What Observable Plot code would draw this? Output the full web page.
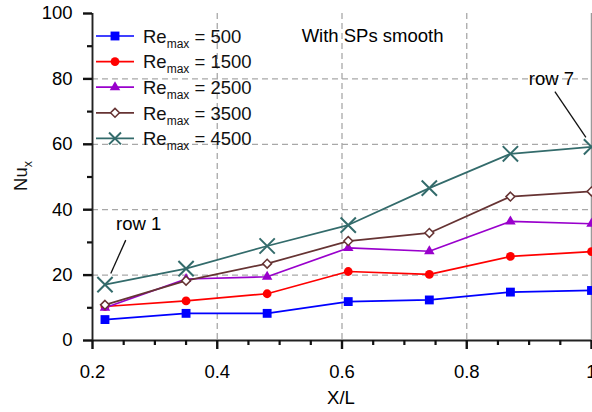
<!DOCTYPE html>
<html><head><meta charset="utf-8">
<script src="https://cdn.jsdelivr.net/npm/d3@7"></script>
<script src="https://cdn.jsdelivr.net/npm/@observablehq/plot@0.6"></script>
<style>
html,body{margin:0;padding:0;background:#fff;overflow:hidden}
#chart{width:592px;height:412px;overflow:hidden;position:relative}
</style>
</head><body><div id="chart"></div>
<script>
// ---- data ----
const xPos = [0.22, 0.35, 0.48, 0.61, 0.74, 0.87, 1.0];
const reLabels = ["500", "1500", "2500", "3500", "4500"];
const nu500  = [6.4, 8.3, 8.3, 11.9, 12.4, 14.8, 15.3];
const nu1500 = [10.4, 12.1, 14.3, 21.1, 20.2, 25.7, 27.2];
const nu2500 = [10.0, 18.8, 19.5, 28.3, 27.3, 36.4, 35.7];
const nu3500 = [10.9, 18.3, 23.5, 30.4, 32.9, 44.0, 45.6];
const nu4500 = [17.1, 22.0, 28.9, 35.3, 46.6, 57.1, 59.2];
const xTicks = [0.2, 0.4, 0.6, 0.8, 1.0];
const xTickLabels = ["0.2", "0.4", "0.6", "0.8", "1"];
const xMinorTicks = [0.25, 0.3, 0.35, 0.45, 0.5, 0.55, 0.65, 0.7, 0.75, 0.85, 0.9, 0.95];
const xGrid = [0.4, 0.6, 0.8];
const yTicks = [0, 20, 40, 60, 80, 100];
const yMinorTicks = [10, 30, 50, 70, 90];
const yGrid = [20, 40, 60, 80];
const noteText = ["With SPs smooth"];
const noteX = [0.649];
const noteY = [93.0];
const annoLabels = ["row 1", "row 7"];
const annoTextX = [0.274, 0.9357];
const annoTextY = [35.7, 80.0];
const annoFromX = [0.2533, 0.9413];
const annoFromY = [30.7, 76.1];
const annoToX = [0.2293, 0.991];
const annoToY = [20.5, 62.1];

// ---- styles ----
const seriesValues = [nu500, nu1500, nu2500, nu3500, nu4500];
const colors = ["#0000ff", "#ff0000", "#9900cc", "#663333", "#336b6b"];
const symbols = ["square", "circle", "triangle", "diamond2", "times"];
const dotStyle = [
  {r: 5, fillFn: c => c, stroke: "none", sw: 0},
  {r: 4.4, fillFn: c => c, stroke: "none", sw: 0},
  {r: 3.9, fillFn: c => c, stroke: "none", sw: 0},
  {r: 4, fillFn: () => "white", stroke: "self", sw: 1.5},
  {r: 7, fillFn: () => "none", stroke: "self", sw: 2}
];
const FONT = "'Liberation Sans', Arial, Helvetica, sans-serif";
const FS = 18.5;
const MAJOR = 9, MINOR = 5;

const series = seriesValues.map((vals, s) =>
  vals.map((v, i) => ({x: xPos[i], y: v, s}))
);
const notes = noteText.map((t, i) => ({t, x: noteX[i], y: noteY[i]}));
const annos = annoLabels.map((t, i) => ({
  t, tx: annoTextX[i], ty: annoTextY[i],
  x1: annoFromX[i], y1: annoFromY[i], x2: annoToX[i], y2: annoToY[i]
}));

const gridStyle = {stroke: "#a8a8a8", strokeOpacity: 1, strokeWidth: 1.3, strokeDasharray: "6,4"};

const marks = [
  Plot.gridX(xGrid, gridStyle),
  Plot.gridY(yGrid, gridStyle),
  Plot.ruleX([1.0], {stroke: "#9a9a9a", strokeWidth: 1.5}),
  Plot.ruleY([0], {stroke: "#222", strokeWidth: 1.9}),
  Plot.ruleX([0.2], {stroke: "#222", strokeWidth: 1.9}),
  Plot.axisX(xMinorTicks, {tickSize: MINOR, tickFormat: () => "", label: null, stroke: "#111", strokeWidth: 2.2}),
  Plot.axisX(xTicks, {tickSize: MAJOR, tickPadding: 15, label: null, fontSize: FS, stroke: "#111", strokeWidth: 2.4,
    tickFormat: (d) => xTickLabels[xTicks.indexOf(d)]}),
  Plot.axisY(yMinorTicks, {tickSize: MINOR, tickFormat: () => "", label: null, stroke: "#111", strokeWidth: 2.2}),
  Plot.axisY(yTicks, {tickSize: MAJOR, tickPadding: 11, label: null, fontSize: FS, stroke: "#111", strokeWidth: 2.4}),
  Plot.text(["X/L"], {frameAnchor: "bottom", dy: 63, dx: -1, fontSize: FS, text: d => d}),
  Plot.text(notes, {x: "x", y: "y", text: "t", fontSize: FS}),
  Plot.link(annos, {x1: "x1", y1: "y1", x2: "x2", y2: "y2", stroke: "#111", strokeWidth: 1.3}),
  Plot.text(annos, {x: "tx", y: "ty", text: "t", fontSize: FS})
];

series.forEach((data, s) => {
  const st = dotStyle[s];
  marks.push(Plot.line(data, {x: "x", y: "y", stroke: colors[s], strokeWidth: 1.7}));
  marks.push(Plot.dot(data, {
    x: "x", y: "y", symbol: symbols[s], r: st.r,
    fill: st.fillFn(colors[s]),
    stroke: st.stroke === "self" ? colors[s] : "none",
    strokeWidth: st.sw
  }));
});

const svg = Plot.plot({
  width: 592,
  height: 412,
  marginLeft: 92,
  marginRight: 1,
  marginTop: 13,
  marginBottom: 72,
  x: {domain: [0.2, 1.0]},
  y: {domain: [0, 100]},
  style: {fontFamily: FONT, fontSize: FS + "px"},
  marks
});

// ---- legend & y label (with subscripts) ----
const g = d3.select(svg).append("g").attr("font-family", FONT).attr("fill", "#111");
const legendY0 = 36, legendStep = 25.6;
const symMap = {square: d3.symbolSquare, circle: d3.symbolCircle, triangle: d3.symbolTriangle,
  diamond2: d3.symbolDiamond2, times: d3.symbolTimes};
reLabels.forEach((lab, s) => {
  const y = legendY0 + s * legendStep;
  const st = dotStyle[s];
  g.append("line").attr("x1", 96).attr("x2", 134).attr("y1", y).attr("y2", y)
    .attr("stroke", colors[s]).attr("stroke-width", 1.7);
  const r = s === 4 ? 5.5 : st.r;
  g.append("path")
    .attr("d", d3.symbol(symMap[symbols[s]], r * r * Math.PI)())
    .attr("transform", `translate(115,${y})`)
    .attr("fill", st.fillFn(colors[s]))
    .attr("stroke", st.stroke === "self" ? colors[s] : "none")
    .attr("stroke-width", st.sw);
  const t = g.append("text").attr("x", 143).attr("y", y + 6.8)
    .attr("font-size", FS).attr("text-anchor", "start");
  t.append("tspan").text("Re");
  t.append("tspan").attr("font-size", 12).attr("dy", 5).text("max");
  t.append("tspan").attr("dy", -5).text(" = " + lab);
});

const yl = g.append("text")
  .attr("transform", "translate(26.5,176) rotate(-90)")
  .attr("text-anchor", "middle").attr("font-size", FS);
yl.append("tspan").text("Nu");
yl.append("tspan").attr("font-size", 12.5).attr("dy", 5).text("x");

document.getElementById("chart").appendChild(svg);
</script>
</body></html>
